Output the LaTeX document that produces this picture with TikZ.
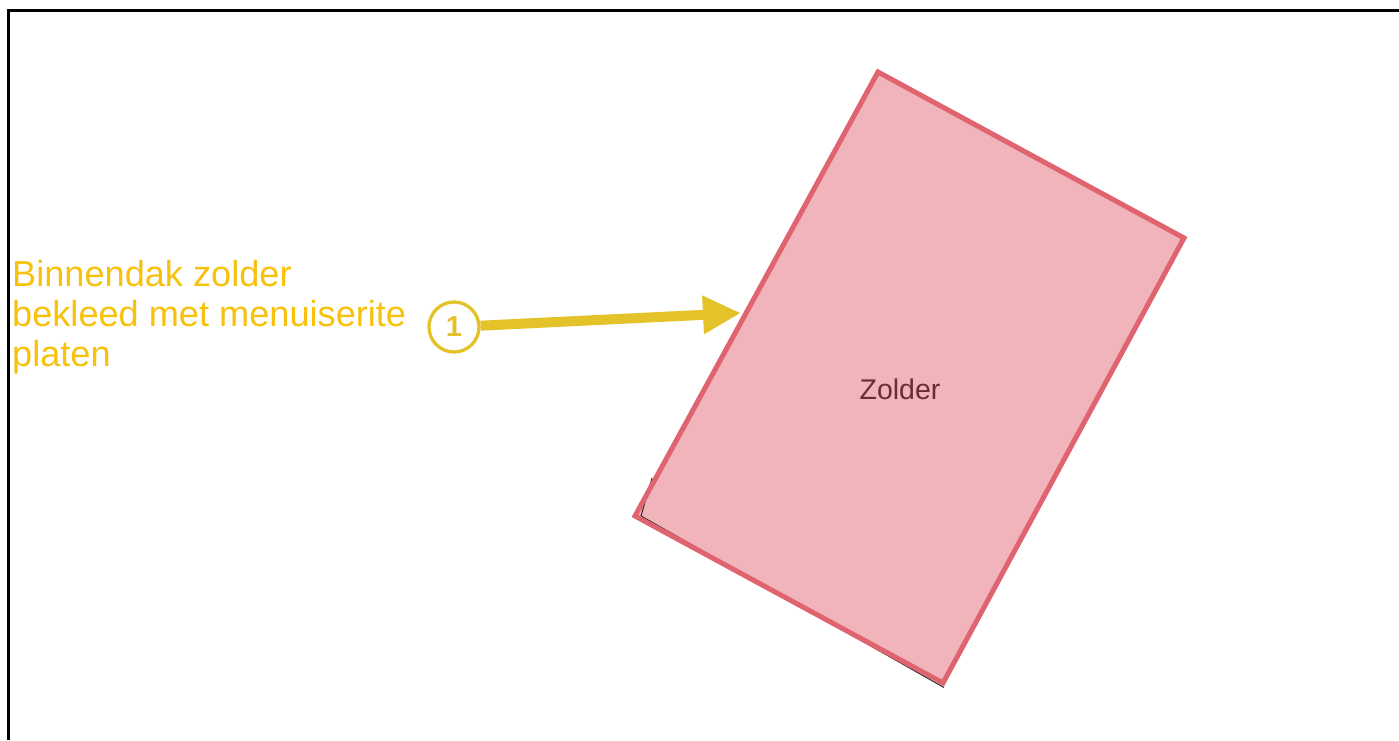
\documentclass[tikz,border=0pt]{standalone}
\usepackage{fontspec}
\setmainfont{Liberation Sans}
\usetikzlibrary{arrows.meta}
\definecolor{roomline}{HTML}{E06470}
\definecolor{roomfill}{HTML}{F0B4BA}
\definecolor{roomtext}{HTML}{6B2C36}
\definecolor{notetext}{HTML}{F7C10C}
\definecolor{markyellow}{HTML}{E4C22A}
\tikzset{
  roomlabel/.style={text=roomtext, font=\fontsize{28.6}{32}\selectfont, inner sep=0pt},
  notelabel/.style={text=notetext, font=\fontsize{36.3}{40}\selectfont, align=left, inner sep=0pt},
  markcircle/.style={circle, draw=markyellow, line width=3.3bp, minimum size=50bp, inner sep=0pt,
    text=markyellow, font=\bfseries\fontsize{29}{30}\selectfont},
  markarrow/.style={draw=markyellow, line width=10bp, -{Triangle[length=38bp,width=36bp]}},
}
\begin{document}
\begin{tikzpicture}[x=1bp, y=-1bp]
\useasboundingbox (0,0) rectangle (1399,740);
\fill[white] (0,0) rectangle (1399,740);
% frame
\draw[black, line width=3bp] (8.5,740) -- (8.5,10.5) -- (1399,10.5);
% room
\fill[roomfill] (878,72) -- (1184,238) -- (943,683) -- (635,516) -- cycle;
\draw[black!85, line width=1bp] (652,478) -- (641,516) -- (944,687.5);
\draw[roomline, line width=5bp, line join=miter] (878,72) -- (1184,238) -- (943,683) -- (635,516) -- cycle;
\node[roomlabel] (zolder) at (900,389) {Zolder};
% note
\node[notelabel, anchor=north west] (note) at (12,260.5) {Binnendak zolder\\bekleed met menuiserite\\platen};
\node[markcircle] (c1) at (454,327) {1};
\coordinate (tip) at (741,313);
\draw[markarrow] (c1) -- (tip);
\end{tikzpicture}
\end{document}
